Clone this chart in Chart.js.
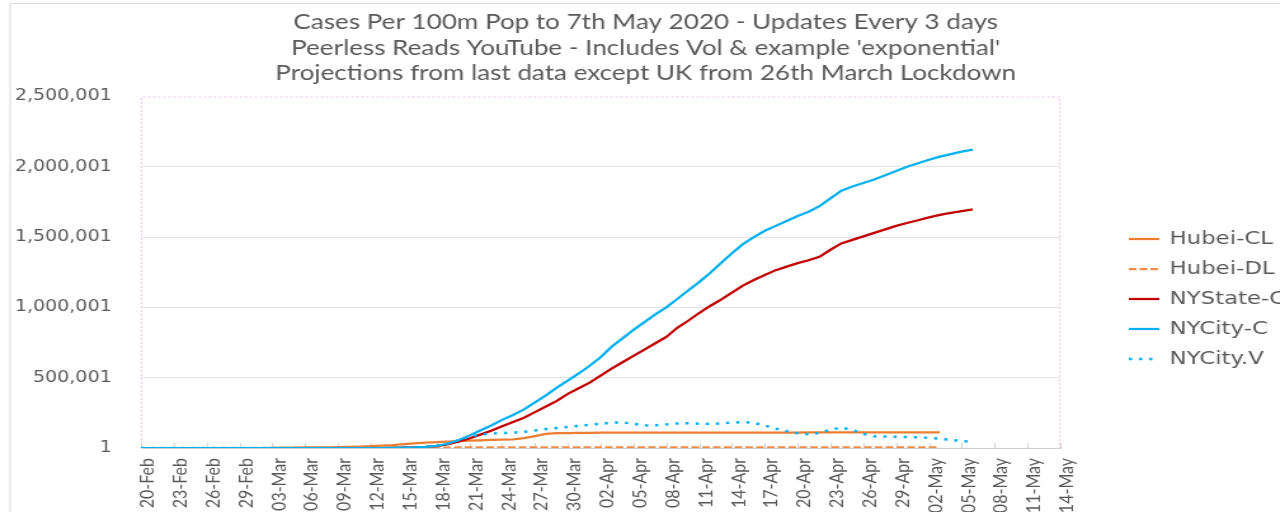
<!DOCTYPE html>
<html>
<head>
<meta charset="utf-8">
<script src="https://cdn.jsdelivr.net/npm/chart.js@4.4.1/dist/chart.umd.min.js"></script>
<style>
  html, body { margin: 0; padding: 0; background: #fff; overflow: hidden; }
  /* the reference is a horizontally stretched screenshot, so stretch the canvas the same way */
  #chart { transform: scaleX(1.2698); transform-origin: 0 0; }
</style>
</head>
<body>
<canvas id="chart" width="1008" height="512"></canvas>
<script>
// x axis: one value per day starting 20-Feb, labelled every 3 days
const tickLabels = ['20-Feb', '23-Feb', '26-Feb', '29-Feb', '03-Mar', '06-Mar', '09-Mar', '12-Mar',
  '15-Mar', '18-Mar', '21-Mar', '24-Mar', '27-Mar', '30-Mar', '02-Apr', '05-Apr', '08-Apr',
  '11-Apr', '14-Apr', '17-Apr', '20-Apr', '23-Apr', '26-Apr', '29-Apr', '02-May', '05-May',
  '08-May', '11-May', '14-May'];
const yTicks = [1, 500001, 1000001, 1500001, 2000001, 2500001];

// cases per 100m population, daily from 20-Feb
const hubeiCL = [0, 0, 0, 0, 0, 0, 0, 0, 0, 0, 0, 0,
  1000, 2000, 3000, 4000, 5000, 5000, 6000, 8000, 10000, 13000, 17000, 21000, 27000, 33000,
  38000, 42000, 45000, 49000, 52000, 55000, 57000, 59000, 61000, 70000, 85000, 100000, 105000,
  106000, 107000, 108000,
  109000, 109000, 109000, 109000, 109000, 109000, 109000, 109000, 109000,
  110000, 110000, 110000, 110000, 110000, 110000, 110000, 110000, 110000, 110000,
  111000, 111000, 111000, 111000, 111000, 111000, 111000, 111000, 111000, 111000, 111000, 111000, 111000];
const hubeiDL = [0, 0, 0, 0, 0, 0, 0, 0, 0, 0, 0, 0, 0, 0, 0,
  200, 300, 500, 700, 1000, 1200, 1500, 1800, 2100, 2400, 2700, 3000, 3200, 3400, 3600, 3800,
  4000, 4100, 4200, 4300, 4400, 4500, 4600, 4700, 4800,
  4900, 4900, 4900, 4900, 4900, 4900, 4900, 4900, 4900, 4900, 4900, 4900, 4900, 4900, 4900, 4900, 4900,
  4900, 4900, 4900, 4900, 4900, 4900, 4900, 4900, 4900, 4900, 4900, 4900, 4900, 4900, 4900, 4900, 4900];
const nyStateC = [0, 0, 0, 0, 0, 0, 0, 0, 0, 0, 0, 0, 0, 0, 0, 0, 0, 0, 0, 0, 0, 0, 0,
  1000, 2000, 4000, 8000, 14000, 25000, 45000, 68000, 95000, 122000, 155000, 185000, 215000,
  255000, 295000, 335000, 385000, 425000, 465000, 515000, 565000, 610000, 655000, 700000,
  745000, 790000, 855000, 905000, 960000, 1010000, 1055000, 1105000, 1155000, 1195000, 1230000,
  1265000, 1290000, 1315000, 1335000, 1360000, 1410000, 1455000, 1480000, 1505000, 1530000,
  1555000, 1580000, 1600000, 1620000, 1640000, 1658000, 1672000, 1685000, 1697000];
const nyCityC = [0, 0, 0, 0, 0, 0, 0, 0, 0, 0, 0, 0, 0, 0, 0, 0, 0, 0, 0, 0, 0, 0, 0,
  1000, 2000, 4000, 8000, 15000, 30000, 55000, 88000, 125000, 160000, 200000, 235000, 275000,
  325000, 375000, 430000, 480000, 530000, 585000, 645000, 720000, 780000, 840000, 895000,
  950000, 1000000, 1060000, 1120000, 1180000, 1245000, 1315000, 1385000, 1450000, 1500000,
  1545000, 1580000, 1615000, 1650000, 1680000, 1720000, 1775000, 1830000, 1860000, 1885000,
  1910000, 1940000, 1970000, 2000000, 2025000, 2050000, 2072000, 2090000, 2108000, 2122000];
const nyCityV = [0, 0, 0, 0, 0, 0, 0, 0, 0, 0, 0, 0, 0, 0, 0, 0, 0, 0, 0, 0, 0, 0, 0, 0, 0, 0,
  8000, 15000, 30000, 55000, 80000, 95000, 103000, 107000, 110000, 115000, 125000, 135000,
  142000, 150000, 158000, 165000, 172000, 180000, 182000, 172000, 160000, 162000, 168000,
  175000, 176000, 173000, 171000, 175000, 180000, 185000, 178000, 160000, 138000, 120000,
  105000, 97000, 108000, 130000, 145000, 128000, 100000, 83000, 81000, 80000, 78000, 76000,
  72000, 66000, 58000, 50000, 44000];

const titleLines = [
  'Cases Per 100m Pop to 7th May 2020 - Updates Every 3 days',
  "Peerless Reads YouTube - Includes Vol & example 'exponential'",
  'Projections from last data except UK from 26th March Lockdown'
];

const byDay = (arr) => arr.map((v, i) => ({x: i, y: v}));
const textGrey = '#595959';

// pink dotted plot frame, outer chart border and inward x tick marks
const framePlugin = {
  id: 'frame',
  beforeDraw(chart) {
    const ctx = chart.ctx;
    ctx.save();
    ctx.strokeStyle = '#d9d9d9';
    ctx.lineWidth = 1;
    ctx.beginPath();
    ctx.moveTo(8, 512);
    ctx.lineTo(8, 3.5);
    ctx.lineTo(1008, 3.5);
    ctx.stroke();
    ctx.restore();
  },
  beforeDatasetsDraw(chart) {
    const {ctx, chartArea: a} = chart;
    const x = chart.scales.x;
    ctx.save();
    ctx.strokeStyle = '#f2c2f2';
    ctx.lineWidth = 1;
    ctx.setLineDash([2, 2]);
    ctx.beginPath();
    ctx.moveTo(a.left + 0.5, a.bottom);
    ctx.lineTo(a.left + 0.5, a.top + 0.5);
    ctx.lineTo(a.right - 0.5, a.top + 0.5);
    ctx.lineTo(a.right - 0.5, a.bottom);
    ctx.stroke();
    ctx.setLineDash([]);
    ctx.strokeStyle = '#d0d0d0';
    ctx.beginPath();
    x.ticks.forEach(t => {
      const px = Math.round(x.getPixelForValue(t.value)) + 0.5;
      ctx.moveTo(px, a.bottom - 5);
      ctx.lineTo(px, a.bottom);
    });
    ctx.stroke();
    ctx.restore();
  }
};

const legendPlugin = {
  id: 'sideLegend',
  afterDraw(chart) {
    const ctx = chart.ctx;
    ctx.save();
    chart.data.datasets.forEach((ds, i) => {
      const y = 239 + i * 30;
      ctx.strokeStyle = ds.borderColor;
      ctx.lineWidth = ds.borderWidth;
      ctx.setLineDash(ds.borderDash || []);
      ctx.beginPath();
      ctx.moveTo(889, y);
      ctx.lineTo(913, y);
      ctx.stroke();
      ctx.setLineDash([]);
      ctx.fillStyle = textGrey;
      ctx.font = '18px "DejaVu Sans"';
      ctx.textBaseline = 'middle';
      ctx.fillText(ds.label, 921, y);
    });
    ctx.restore();
  }
};

new Chart(document.getElementById('chart'), {
  type: 'line',
  data: {
    datasets: [
      {label: 'Hubei-CL', data: byDay(hubeiCL), borderColor: '#ed7d31', borderWidth: 2.25, order: 4},
      {label: 'Hubei-DL', data: byDay(hubeiDL), borderColor: '#f18a44', borderWidth: 2.25, borderDash: [6, 2.5], order: 3},
      {label: 'NYState-C', data: byDay(nyStateC), borderColor: '#c00000', borderWidth: 2.25, order: 2},
      {label: 'NYCity-C', data: byDay(nyCityC), borderColor: '#00b0f0', borderWidth: 2.25, order: 1},
      {label: 'NYCity.V', data: byDay(nyCityV), borderColor: '#00b0f0', borderWidth: 2.5, borderDash: [2.5, 5.5], order: 0}
    ]
  },
  options: {
    responsive: false,
    animation: false,
    elements: {point: {radius: 0}, line: {tension: 0, fill: false}},
    layout: {padding: {left: 9, right: 0, top: 0, bottom: 0}},
    plugins: {
      legend: {display: false},
      tooltip: {enabled: false},
      title: {
        display: true,
        text: titleLines,
        color: textGrey,
        font: {family: 'Lato', size: 20.5, weight: 'normal', lineHeight: 1.244},
        padding: {top: 10, bottom: 10}
      }
    },
    scales: {
      x: {
        type: 'linear',
        min: 0,
        max: 84,
        grid: {display: false, drawTicks: false},
        border: {display: true, color: '#d0d0d0'},
        ticks: {
          stepSize: 3,
          autoSkip: false,
          maxRotation: 90,
          minRotation: 90,
          padding: 10,
          labelOffset: 5,
          color: textGrey,
          font: {family: 'Lato', size: 16},
          callback: (v) => tickLabels[v / 3]
        },
        afterFit: (s) => { s.height = 64; }
      },
      y: {
        min: 1,
        max: 2500001,
        afterBuildTicks: (s) => { s.ticks = yTicks.map(v => ({value: v})); },
        grid: {
          drawTicks: false,
          color: (c) => (c.tick && c.tick.value === 2500001) || (c.tick && c.tick.value === 1) ? 'rgba(0,0,0,0)' : '#e3e3e3'
        },
        border: {display: false},
        ticks: {
          padding: 23,
          color: textGrey,
          font: {family: 'DejaVu Sans', size: 15},
          callback: (v) => v.toLocaleString('en-US')
        },
        afterFit: (s) => { s.width = 102; }
      },
      // empty right-hand axis that only reserves the space the legend sits in
      yPad: {
        position: 'right',
        grid: {display: false},
        border: {display: false},
        ticks: {display: false},
        afterFit: (s) => { s.width = 173; }
      }
    }
  },
  plugins: [framePlugin, legendPlugin]
});
</script>
</body>
</html>
